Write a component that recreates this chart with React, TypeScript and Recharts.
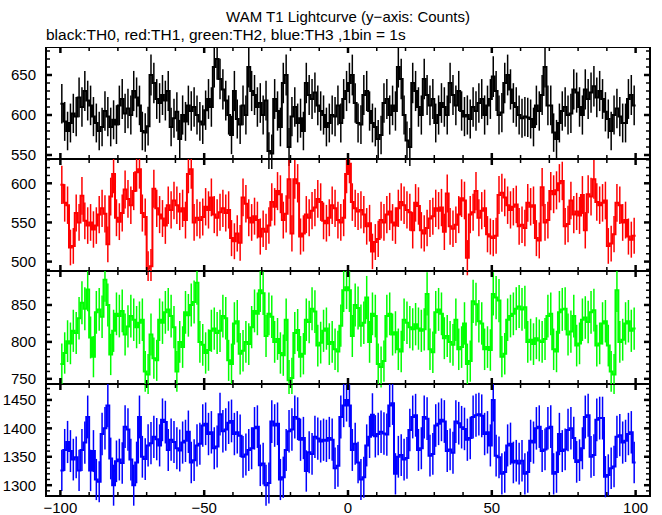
import React from "react";
import { ComposedChart, Line, XAxis, YAxis, ErrorBar, ReferenceArea } from "recharts";

// ---- data (counts per 1-s bin, bins from -100 s to +100 s) ----
const th0: number[] = [
  614, 592, 580, 590, 602, 598, 622, 610, 630, 618,
  612, 598, 590, 580, 585, 605, 598, 585, 594, 588,
  612, 620, 602, 608, 600, 630, 622, 612, 580, 578,
  586, 650, 640, 620, 615, 625, 618, 630, 585, 596,
  604, 570, 600, 592, 612, 605, 610, 600, 592, 588,
  606, 620, 610, 660, 670, 645, 632, 618, 600, 575,
  630, 595, 588, 612, 600, 660, 630, 625, 610, 615,
  600, 618, 555, 552, 620, 605, 585, 640, 650, 560,
  598, 610, 590, 596, 580, 640, 625, 620, 628, 612,
  605, 600, 585, 590, 600, 598, 612, 590, 620, 630,
  640, 650, 615, 590, 588, 625, 630, 605, 590, 585,
  570, 575, 615, 620, 600, 612, 605, 660, 645, 600,
  568, 560, 640, 630, 610, 600, 645, 625, 612, 620,
  590, 600, 615, 610, 600, 640, 625, 612, 630, 605,
  598, 600, 595, 610, 605, 615, 620, 600, 612, 620,
  648, 630, 600, 603, 640, 650, 632, 615, 610, 600,
  596, 598, 597, 595, 585, 612, 605, 625, 660, 612,
  612, 578, 570, 590, 605, 610, 600, 602, 632, 628,
  610, 600, 632, 620, 628, 636, 622, 630, 620, 604,
  595, 580, 600, 608, 598, 590, 590, 620, 625, 612,
];
const th1: number[] = [
  598, 575, 572, 518, 520, 562, 550, 584, 552, 546,
  550, 541, 546, 560, 568, 561, 522, 583, 612, 556,
  551, 562, 592, 580, 572, 590, 614, 618, 562, 557,
  491, 494, 593, 568, 560, 555, 546, 572, 566, 578,
  572, 564, 568, 553, 612, 618, 550, 556, 553, 557,
  570, 566, 582, 560, 556, 563, 568, 562, 566, 530,
  526, 536, 524, 582, 574, 556, 550, 558, 553, 532,
  542, 538, 546, 576, 570, 590, 586, 553, 561, 605,
  536, 605, 600, 532, 536, 560, 556, 565, 569, 580,
  576, 552, 549, 556, 572, 568, 553, 550, 556, 612,
  625, 576, 568, 564, 566, 560, 545, 549, 513, 525,
  529, 553, 550, 560, 564, 550, 546, 568, 576, 572,
  566, 563, 540, 575, 571, 540, 536, 543, 555, 558,
  568, 565, 569, 538, 587, 545, 542, 547, 560, 581,
  578, 505, 560, 563, 590, 556, 565, 568, 535, 532,
  530, 533, 585, 588, 582, 572, 566, 570, 573, 545,
  547, 543, 575, 570, 572, 530, 527, 595, 550, 553,
  590, 586, 591, 600, 603, 545, 548, 578, 560, 564,
  559, 585, 540, 586, 583, 605, 576, 572, 575, 578,
  520, 523, 535, 575, 572, 550, 553, 532, 528, 533,
];
const th2: number[] = [
  770, 785, 801, 798, 815, 812, 832, 853, 845, 871,
  806, 780, 840, 844, 834, 884, 850, 783, 815, 838,
  835, 842, 810, 821, 835, 830, 820, 826, 830, 760,
  756, 810, 778, 775, 830, 826, 840, 844, 835, 820,
  760, 800, 793, 840, 836, 850, 854, 880, 800, 796,
  785, 789, 815, 818, 812, 815, 835, 832, 775, 770,
  825, 828, 784, 788, 800, 797, 820, 842, 838, 870,
  866, 808, 838, 834, 800, 804, 785, 782, 830, 748,
  751, 812, 816, 780, 784, 830, 827, 845, 841, 795,
  799, 815, 818, 797, 800, 790, 787, 822, 870, 874,
  870, 808, 850, 846, 822, 826, 860, 800, 838, 835,
  770, 766, 774, 835, 838, 810, 813, 790, 787, 830,
  826, 820, 817, 824, 818, 815, 817, 865, 790, 786,
  840, 844, 838, 805, 808, 800, 796, 830, 790, 793,
  825, 770, 774, 855, 851, 828, 825, 790, 793, 789,
  865, 860, 856, 780, 784, 830, 835, 838, 845, 848,
  844, 847, 800, 803, 797, 805, 802, 800, 804, 835,
  838, 790, 787, 840, 844, 845, 810, 814, 835, 795,
  798, 830, 833, 827, 840, 843, 795, 798, 825, 828,
  795, 760, 756, 870, 800, 803, 825, 828, 815, 818,
];
const th3: number[] = [
  1326, 1362, 1376, 1360, 1345, 1349, 1326, 1362, 1375, 1420,
  1326, 1360, 1310, 1306, 1390, 1400, 1440, 1347, 1300, 1342,
  1345, 1339, 1403, 1398, 1345, 1300, 1340, 1420, 1350, 1346,
  1370, 1374, 1385, 1381, 1370, 1415, 1411, 1362, 1380, 1376,
  1365, 1361, 1375, 1378, 1394, 1340, 1344, 1370, 1373, 1405,
  1408, 1390, 1393, 1365, 1368, 1425, 1395, 1398, 1410, 1413,
  1390, 1393, 1387, 1350, 1354, 1362, 1365, 1400, 1403, 1335,
  1338, 1300, 1304, 1412, 1405, 1408, 1310, 1314, 1362, 1395,
  1398, 1420, 1417, 1380, 1383, 1325, 1358, 1355, 1385, 1382,
  1377, 1380, 1378, 1383, 1380, 1330, 1334, 1420, 1440, 1450,
  1440, 1362, 1373, 1340, 1310, 1314, 1370, 1385, 1424, 1386,
  1390, 1394, 1391, 1389, 1440, 1444, 1320, 1350, 1353, 1345,
  1348, 1397, 1420, 1423, 1362, 1365, 1420, 1417, 1352, 1355,
  1405, 1408, 1415, 1412, 1360, 1363, 1357, 1412, 1409, 1402,
  1399, 1380, 1383, 1420, 1423, 1425, 1422, 1390, 1393, 1370,
  1450, 1352, 1349, 1320, 1323, 1370, 1373, 1340, 1343, 1338,
  1343, 1320, 1323, 1378, 1375, 1400, 1403, 1360, 1363, 1400,
  1403, 1320, 1323, 1390, 1360, 1363, 1397, 1400, 1383, 1341,
  1344, 1365, 1420, 1423, 1350, 1353, 1415, 1418, 1418, 1315,
  1318, 1330, 1333, 1385, 1388, 1375, 1378, 1390, 1393, 1340,
];

// ---- axes ----
const xTicks: number[] = [
  -100, -90, -80, -70, -60, -50, -40, -30, -20, -10, 0,
  10, 20, 30, 40, 50, 60, 70, 80, 90, 100,
];
const xMajor: number[] = [-100, -50, 0, 50, 100];
const xDomain: [number, number] = [-105, 105];

const y0Ticks: number[] = [550, 560, 570, 580, 590, 600, 610, 620, 630, 640, 650, 660, 670, 680];
const y0Major: number[] = [550, 600, 650];
const y1Ticks: number[] = [490, 500, 510, 520, 530, 540, 550, 560, 570, 580, 590, 600, 610, 620, 630];
const y1Major: number[] = [500, 550, 600];
const y2Ticks: number[] = [750, 760, 770, 780, 790, 800, 810, 820, 830, 840, 850, 860, 870, 880, 890];
const y2Major: number[] = [750, 800, 850];
const y3Ticks: number[] = [1290, 1300, 1310, 1320, 1330, 1340, 1350, 1360, 1370, 1380, 1390, 1400, 1410, 1420, 1430, 1440, 1450, 1460, 1470];
const y3Major: number[] = [1300, 1350, 1400, 1450];

const FONT = "'Liberation Sans', Arial, Helvetica, sans-serif";
const PLOT_LEFT = 46;
const PLOT_RIGHT = 650;
const CHART_W = 662;

function buildData(vals: number[]) {
  const rows = vals.map((v, i) => ({ t: -99.5 + i, v, e: Math.sqrt(v) }));
  return [
    { t: -100, v: vals[0], e: 0 },
    ...rows,
    { t: 100, v: vals[vals.length - 1], e: 0 },
  ];
}

const fmt = (n: number) => (n < 0 ? "\u2212" + Math.abs(n) : String(n));

function makeXTick(ph: number, showLabel: boolean) {
  return (props: any) => {
    const { x, payload } = props;
    const major = xMajor.includes(payload.value);
    const len = major ? 6 : 4;
    const sw = major ? 2.5 : 1.5;
    return (
      <g>
        <line x1={x} x2={x} y1={ph} y2={ph - len} stroke="#000" strokeWidth={sw} />
        <line x1={x} x2={x} y1={0} y2={len} stroke="#000" strokeWidth={sw} />
        {showLabel && major ? (
          <text x={x} y={ph + 17} textAnchor="middle" fontFamily={FONT} fontSize={15} fill="#000">
            {fmt(payload.value)}
          </text>
        ) : null}
      </g>
    );
  };
}

function makeYTick(majors: number[]) {
  return (props: any) => {
    const { y, payload } = props;
    const major = majors.includes(payload.value);
    const len = major ? 6 : 4;
    const sw = major ? 2.5 : 1.5;
    return (
      <g>
        <line x1={PLOT_LEFT} x2={PLOT_LEFT + len} y1={y} y2={y} stroke="#000" strokeWidth={sw} />
        <line x1={PLOT_RIGHT} x2={PLOT_RIGHT - len} y1={y} y2={y} stroke="#000" strokeWidth={sw} />
        {major ? (
          <text x={36} y={y} dy="0.36em" textAnchor="end" fontFamily={FONT} fontSize={15} fill="#000">
            {payload.value}
          </text>
        ) : null}
      </g>
    );
  };
}

type PanelProps = {
  vals: number[];
  color: string;
  domain: [number, number];
  ticks: number[];
  majors: number[];
  top: number;
  height: number;
  showX: boolean;
};

function Panel({ vals, color, domain, ticks, majors, top, height, showX }: PanelProps) {
  const mb = showX ? 24 : 10;
  const data = buildData(vals);
  return (
    <div style={{ position: "absolute", left: 0, top }}>
      <ComposedChart
        width={CHART_W}
        height={height + mb}
        data={data}
        margin={{ top: 0, right: CHART_W - PLOT_RIGHT, bottom: 0, left: 0 }}
      >
        <XAxis
          dataKey="t"
          type="number"
          domain={xDomain}
          ticks={xTicks}
          interval={0}
          allowDataOverflow
          height={mb}
          axisLine={false}
          tickLine={false}
          tick={makeXTick(height, showX)}
        />
        <YAxis
          type="number"
          domain={domain}
          ticks={ticks}
          interval={0}
          allowDataOverflow
          width={PLOT_LEFT}
          axisLine={false}
          tickLine={false}
          tick={makeYTick(majors)}
        />
        <Line
          dataKey="v"
          type="step"
          stroke={color}
          strokeWidth={2}
          dot={false}
          activeDot={false}
          isAnimationActive={false}
        >
          <ErrorBar dataKey="e" direction="y" width={0} stroke={color} strokeWidth={1.5} />
        </Line>
        <ReferenceArea
          x1={xDomain[0]}
          x2={xDomain[1]}
          y1={domain[0]}
          y2={domain[1]}
          fill="none"
          fillOpacity={0}
          stroke="#000"
          strokeWidth={2}
          ifOverflow="visible"
        />
      </ComposedChart>
    </div>
  );
}

export default function App() {
  return (
    <div style={{ position: "absolute", left: 0, top: 0, width: 662, height: 515, background: "#fff", fontFamily: FONT }}>
      <div style={{ position: "absolute", left: 0, top: 9, width: 2 * 348, textAlign: "center", fontSize: 15, lineHeight: "16px", color: "#000" }}>
        WAM T1 Lightcurve (y{"\u2212"}axis: Counts)
      </div>
      <div style={{ position: "absolute", left: 46, top: 27, fontSize: 15.5, lineHeight: "16px", color: "#000", whiteSpace: "nowrap" }}>
        black:TH0, red:TH1, green:TH2, blue:TH3 ,1bin = 1s
      </div>
      <Panel vals={th0} color="#000000" domain={[545, 685]} ticks={y0Ticks} majors={y0Major} top={47} height={112} showX={false} />
      <Panel vals={th1} color="#ff0000" domain={[488, 631]} ticks={y1Ticks} majors={y1Major} top={159} height={112} showX={false} />
      <Panel vals={th2} color="#00ff00" domain={[743, 896]} ticks={y2Ticks} majors={y2Major} top={271} height={113} showX={false} />
      <Panel vals={th3} color="#0000ff" domain={[1281, 1478]} ticks={y3Ticks} majors={y3Major} top={384} height={112} showX={true} />
    </div>
  );
}
